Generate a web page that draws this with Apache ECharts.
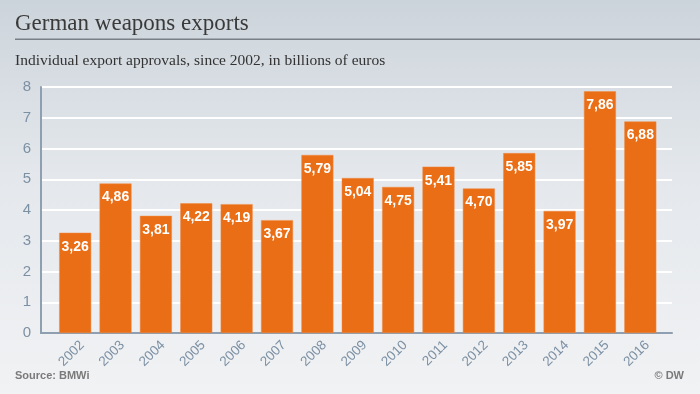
<!DOCTYPE html>
<html><head><meta charset="utf-8">
<script src="https://cdn.jsdelivr.net/npm/echarts@6/dist/echarts.min.js"></script>
<style>html,body{margin:0;padding:0;}#c{width:700px;height:394px;}</style>
</head><body><div id="c"></div>
<script>
const years = ['2002','2003','2004','2005','2006','2007','2008','2009','2010','2011','2012','2013','2014','2015','2016'];
const values = [3.26,4.86,3.81,4.22,4.19,3.67,5.79,5.04,4.75,5.41,4.70,5.85,3.97,7.86,6.88];
const yTicks = [0,1,2,3,4,5,6,7,8];

const axisColor = '#7c90a4';
const chart = echarts.init(document.getElementById('c'));
chart.setOption({
  animation: false,
  backgroundColor: {type:'linear', x:0, y:0, x2:0, y2:1, colorStops:[
    {offset:0, color:'#ccd4db'},{offset:0.45, color:'#e4e8ec'},{offset:1, color:'#f1f2f4'}]},
  grid: [
    {left:41, right:28, top:87, bottom:61},
    {left:55, right:39.5, top:87, bottom:61},
    {left:62, right:32.5, top:87, bottom:61}
  ],
  xAxis: [
    {type:'category', gridIndex:0, data:[''], axisLine:{show:true, lineStyle:{color:'#8d9fb0', width:2}},
     axisTick:{show:false}, axisLabel:{show:false}},
    {type:'category', gridIndex:1, data:years, axisLine:{show:false}, axisTick:{show:false},
     axisLabel:{show:false}},
    {type:'category', gridIndex:2, data:years, axisLine:{show:false}, axisTick:{show:false},
     axisLabel:{rotate:45, margin:10, color:axisColor, fontSize:13.5, fontFamily:'Liberation Sans'}}
  ],
  yAxis: [
    {type:'value', gridIndex:0, min:0, max:8, interval:1,
     axisLine:{show:true, lineStyle:{color:'#8d9fb0', width:2}},
     axisTick:{show:false},
     splitLine:{show:true, lineStyle:{color:'#ffffff', width:2}},
     axisLabel:{margin:10, color:axisColor, fontSize:15, fontFamily:'Liberation Sans',
       formatter: v => yTicks.includes(v) ? String(v) : ''}},
    {type:'value', gridIndex:1, min:0, max:8, interval:1, show:false},
    {type:'value', gridIndex:2, min:0, max:8, interval:1, show:false}
  ],
  series: [{
    type:'bar', xAxisIndex:1, yAxisIndex:1, data:values, barWidth:32,
    itemStyle:{color:'#ea6e16', borderColor:'#f08a45', borderWidth:0.5},
    label:{show:true, position:'insideTop', distance:7, color:'#fff', fontWeight:'bold',
      fontSize:14, fontFamily:'Liberation Sans',
      formatter: p => p.value.toFixed(2).replace('.', ',')}
  }],
  graphic: [
    {type:'text', left:15, top:12, style:{text:'German weapons exports', fill:'#3a3a3a',
      font:'23px "Liberation Serif"'}},
    {type:'rect', left:15, top:38.5, shape:{width:685, height:1.5}, style:{fill:'#7a7f85'}},
    {type:'text', left:15, top:53, style:{text:'Individual export approvals, since 2002, in billions of euros',
      fill:'#333', font:'15.5px "Liberation Serif"'}},
    {type:'text', left:15, top:370, style:{text:'Source: BMWi', fill:'#7a7a7a',
      font:'bold 11px "Liberation Sans"'}},
    {type:'text', right:16, top:370, style:{text:'\u00a9 DW', fill:'#7a7a7a',
      font:'bold 11px "Liberation Sans"'}}
  ]
});
</script></body></html>
